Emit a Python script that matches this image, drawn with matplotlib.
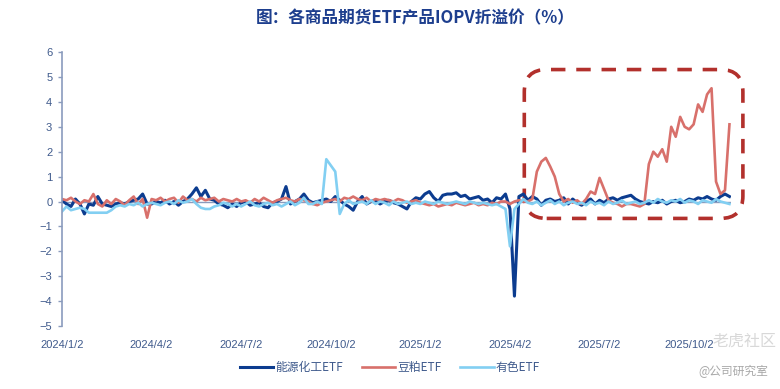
import numpy as np
import matplotlib
matplotlib.use("Agg")
import matplotlib.pyplot as plt
from matplotlib.patches import FancyBboxPatch

# data ------------------------------------------------------------------------
# x is measured in quarters from 2024/1/2, one sample every 0.05 quarter
tick_labels = ["2024/1/2", "2024/4/2", "2024/7/2", "2024/10/2",
               "2025/1/2", "2025/4/2", "2025/7/2", "2025/10/2"]
step = 0.05

energy = [0.05, -0.1, -0.2, 0.1, -0.1, -0.5, -0.1, -0.15, 0.2, -0.1,
          -0.15, -0.2, -0.1, -0.05, -0.1, 0.0, 0.05, 0.1, 0.3, -0.1,
          -0.1, 0.0, -0.05, 0.05, -0.1, 0.0, -0.15, 0.0, 0.1, 0.3,
          0.55, 0.2, 0.45, 0.1, 0.05, -0.1, -0.15, -0.25, -0.1, -0.2,
          -0.05, 0.0, -0.15, -0.1, -0.05, -0.2, -0.25, -0.05, 0.0, 0.1,
          0.6, -0.1, 0.0, 0.1, 0.3, 0.05, -0.05, 0.0, 0.05, 0.1,
          0.0, 0.2, 0.05, -0.1, -0.2, -0.35, 0.0, 0.2, -0.1, 0.0,
          0.05, -0.1, 0.0, 0.05, -0.05, -0.1, -0.2, -0.3, 0.0, 0.15,
          0.1, 0.3, 0.4, 0.15, 0.0, 0.25, 0.3, 0.3, 0.35, 0.2,
          0.25, 0.1, 0.15, 0.2, 0.05, 0.1, -0.05, 0.15, 0.1, 0.3,
          -0.3, -3.8, 0.2, 0.3, 0.05, 0.2, 0.1, -0.15, 0.05, 0.1,
          0.0, 0.05, 0.15, -0.1, 0.1, -0.05, -0.15, 0.0, 0.1, -0.1,
          0.05, -0.05, 0.1, 0.15, 0.05, 0.15, 0.2, 0.25, 0.1, 0.0,
          -0.05, -0.1, 0.0, -0.05, 0.05, -0.1, 0.0, 0.05, -0.05, 0.0,
          0.1, 0.05, 0.15, 0.1, 0.2, 0.1, 0.05, 0.2, 0.3, 0.2]

soymeal = [0.1, 0.05, 0.15, 0.0, -0.1, 0.05, 0.0, 0.3, -0.1, -0.2,
           0.05, -0.1, 0.1, 0.0, -0.15, 0.05, 0.2, -0.1, 0.1, -0.65,
           0.1, 0.05, 0.15, 0.0, 0.1, 0.15, -0.05, 0.2, 0.05, 0.1,
           0.0, 0.15, 0.05, 0.1, 0.15, 0.0, 0.1, 0.05, 0.0, 0.1,
           0.0, 0.05, -0.05, 0.1, 0.0, 0.15, 0.05, -0.05, 0.05, 0.1,
           0.15, 0.05, 0.0, 0.1, 0.05, 0.0, -0.1, -0.15, -0.05, 0.0,
           0.05, 0.1, 0.0, 0.15, 0.1, 0.2, 0.1, 0.05, 0.15, 0.0,
           0.1, 0.05, 0.1, 0.05, 0.0, 0.1, 0.05, -0.05, 0.0, 0.05,
           -0.05, -0.1, -0.15, -0.1, -0.2, -0.15, -0.1, -0.15, -0.05, -0.1,
           -0.15, -0.1, -0.05, -0.15, -0.1, -0.15, -0.05, -0.1, 0.0, 0.0,
           -0.1, 0.0, 0.05, 0.0, 0.0, 0.1, 1.2, 1.6, 1.75, 1.4,
           1.0, 0.3, 0.0, 0.1, -0.05, 0.05, -0.1, 0.1, 0.4, 0.3,
           0.95, 0.5, 0.05, -0.05, -0.1, -0.2, -0.1, -0.1, -0.15, -0.2,
           -0.1, 1.5, 2.0, 1.8, 2.1, 1.6, 3.0, 2.6, 3.4, 3.0,
           2.9, 3.1, 3.9, 3.6, 4.3, 4.55, 0.8, 0.3, 0.45, 3.1]

metals = [-0.4, -0.2, -0.35, -0.3, -0.25, -0.3, -0.45, -0.45, -0.45, -0.45,
          -0.45, -0.35, -0.2, -0.15, -0.2, -0.1, -0.15, -0.05, -0.2, -0.1,
          -0.05, -0.1, -0.15, -0.05, 0.0, -0.1, 0.05, -0.05, 0.0, 0.1,
          -0.1, -0.25, -0.3, -0.3, -0.2, -0.15, -0.05, -0.1, -0.2, -0.1,
          -0.2, -0.1, 0.0, -0.15, -0.2, -0.1, -0.05, -0.15, -0.1, -0.2,
          -0.1, 0.0, -0.15, -0.05, 0.15, -0.1, -0.1, 0.0, -0.1, 1.7,
          1.45, 1.2, -0.5, -0.1, 0.05, -0.1, -0.05, 0.0, -0.1, 0.05,
          -0.1, 0.0, -0.05, -0.15, 0.0, -0.1, -0.05, 0.0, -0.1, -0.05,
          -0.1, 0.0, -0.05, -0.1, 0.0, -0.05, -0.1, -0.05, 0.0, -0.05,
          -0.1, 0.0, -0.05, -0.1, -0.05, -0.1, -0.15, -0.1, -0.2, -0.3,
          -1.8, -0.3, -0.1, 0.1, -0.05, -0.1, 0.0, -0.15, -0.05, 0.05,
          -0.1, 0.0, -0.15, -0.05, 0.0, -0.1, -0.05, -0.15, 0.0, -0.1,
          -0.05, -0.15, 0.0, -0.1, -0.05, 0.05, -0.1, -0.05, 0.0, -0.1,
          -0.05, 0.05, -0.05, 0.1, 0.0, -0.05, 0.05, 0.0, 0.1, -0.05,
          0.05, 0.0, -0.1, 0.05, 0.0, -0.05, 0.1, 0.0, -0.05, -0.1]

names = ["能源化工ETF", "豆粕ETF", "有色ETF"]
colors = ["#0c3c8f", "#d8706b", "#82cff2"]

# highlighted area (quarters / percent)
box_x = (5.16, 7.6)
box_y = (-0.68, 5.3)

# plot ------------------------------------------------------------------------
plt.rcParams['font.family'] = ['Liberation Sans', 'Noto Sans CJK SC']
cjk = ['Noto Sans CJK SC', 'DejaVu Sans']
axis_col = "#8a9bbd"
text_col = "#3f5a8c"

fig = plt.figure(figsize=(7.8, 3.89), dpi=100)
ax = fig.add_axes([0.0795, 0.162, 0.858, 0.704])

x = np.arange(len(energy)) * step
for vals, name, col, lw in zip([energy, soymeal, metals], names, colors, [2.2, 1.9, 1.9]):
    ax.plot(x, vals, color=col, lw=lw, label=name, solid_joinstyle="round")

ax.set_xlim(0, 7.47)
ax.set_ylim(-5, 6)
ax.set_yticks(range(-5, 7))
ax.set_xticks(range(len(tick_labels)))
ax.set_xticklabels(tick_labels)
ax.tick_params(axis='x', length=0, pad=10, labelsize=8, labelcolor=text_col)
ax.tick_params(axis='y', length=3, width=1, color=axis_col, labelsize=8,
               labelcolor=text_col, pad=4)
for s in ["top", "right", "bottom"]:
    ax.spines[s].set_visible(False)
ax.spines["left"].set_color(axis_col)
ax.spines["left"].set_linewidth(1.2)
ax.axhline(0, color=axis_col, lw=1, zorder=0)

# dashed rounded box around the soymeal run-up
px_x = ax.transData.transform((1, 0))[0] - ax.transData.transform((0, 0))[0]
px_y = ax.transData.transform((0, 1))[1] - ax.transData.transform((0, 0))[1]
box = FancyBboxPatch((box_x[0], box_y[0]), box_x[1] - box_x[0], box_y[1] - box_y[0],
                     boxstyle="round,pad=0,rounding_size=0.25",
                     mutation_aspect=px_x / px_y, fill=False,
                     edgecolor="#b2302c", lw=2.6, ls=(0, (4, 3)), clip_on=False)
ax.add_patch(box)

fig.text(0.532, 0.953, "图：各商品期货ETF产品IOPV折溢价（%）", ha="center", va="center",
         fontsize=12, fontweight="bold", color="#1d3e8e", family=cjk)

fig.legend(loc="center", bbox_to_anchor=(0.5, 0.054), ncol=3, frameon=False,
           prop={'family': cjk, 'size': 8.5}, labelcolor=text_col,
           handlelength=2.8, handletextpad=0.2, columnspacing=1.6)

# watermark
fig.text(0.996, 0.124, "老虎社区", ha="right", va="center", fontsize=11.5,
         color="#d4d4d4", family=cjk, alpha=0.9)
fig.text(0.985, 0.045, "@公司研究室", ha="right", va="center", fontsize=8.5,
         color="#a8a8a8", family=cjk)

fig.savefig("out.png", dpi=100)
